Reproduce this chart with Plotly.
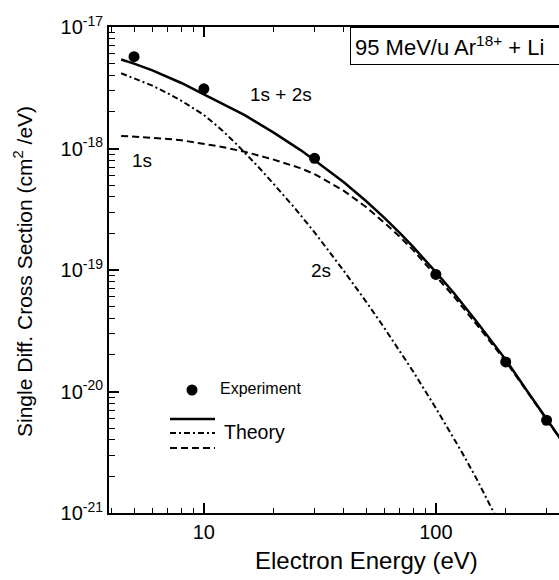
import plotly.graph_objects as go
import numpy as np

# ---------------- data ----------------
exp_energy = [5, 10, 30, 100, 200, 300]
exp_sdcs = [5.7e-18, 3.1e-18, 8.3e-19, 9.2e-20, 1.75e-20, 5.8e-21]

th_energy = [4.4, 5, 6, 7, 8, 10, 12, 15, 20, 26, 30, 40, 50, 60, 70, 80,
             100, 120, 150, 200, 250, 300, 350]
th_total = [5.4e-18, 5.0e-18, 4.4e-18, 3.89e-18, 3.46e-18, 2.79e-18, 2.34e-18,
            1.88e-18, 1.35e-18, 9.75e-19, 8.0e-19, 5.3e-19, 3.7e-19, 2.69e-19,
            2.01e-19, 1.54e-19, 9.6e-20, 6.4e-20, 3.75e-20, 1.83e-20, 9.8e-21,
            6.0e-21, 3.9e-21]
th_1s = [1.27e-18, 1.255e-18, 1.23e-18, 1.20e-18, 1.17e-18, 1.09e-18, 1.03e-18,
         9.4e-19, 8.1e-19, 6.9e-19, 6.15e-19, 4.5e-19, 3.3e-19, 2.45e-19,
         1.87e-19, 1.45e-19, 8.9e-20, 6.0e-20, 3.55e-20, 1.77e-20, 9.7e-21,
         5.95e-21, 3.87e-21]

th2s_energy = [4.4, 5, 6, 7, 8, 10, 12, 14, 17, 20, 25, 30, 40, 50, 60, 80,
               100, 130, 150, 180]
th_2s = [4.16e-18, 3.8e-18, 3.29e-18, 2.84e-18, 2.47e-18, 1.89e-18, 1.41e-18,
         1.06e-18, 7.2e-19, 5.1e-19, 3.13e-19, 2.04e-19, 9.9e-20, 5.5e-20,
         3.33e-20, 1.45e-20, 7.3e-21, 3.12e-21, 1.9e-21, 9.6e-22]

y_tickvals = [1e-21, 1e-20, 1e-19, 1e-18, 1e-17]
y_ticktext = ["10<sup>-21</sup>", "10<sup>-20</sup>", "10<sup>-19</sup>",
              "10<sup>-18</sup>", "10<sup>-17</sup>"]
x_tickvals = [10, 100]
x_ticktext = ["10", "100"]

FONT = "Liberation Sans, Arial, sans-serif"
W, H = 559, 580
L, R, T, B = 109, 0, 27, 67
PW, PH = W - L - R, H - T - B


def px(xpix):
    return (xpix - L) / PW


def py(ypix):
    return (H - B - ypix) / PH


fig = go.Figure()
fig.add_trace(go.Scatter(x=th_energy, y=th_total, mode="lines",
                         line=dict(color="black", width=2.5), showlegend=False))
fig.add_trace(go.Scatter(x=th_energy, y=th_1s, mode="lines",
                         line=dict(color="black", width=2, dash="7px,4px"),
                         showlegend=False))
fig.add_trace(go.Scatter(x=th2s_energy, y=th_2s, mode="lines",
                         line=dict(color="black", width=2, dash="6px,3px,2px,3px"),
                         showlegend=False))
fig.add_trace(go.Scatter(x=exp_energy, y=exp_sdcs, mode="markers",
                         marker=dict(color="black", size=11), showlegend=False,
                         cliponaxis=False))

# curve labels
fig.add_annotation(x=np.log10(21.5), y=np.log10(2.8e-18), text="1s + 2s",
                   showarrow=False, font=dict(size=19, color="black", family=FONT))
fig.add_annotation(x=np.log10(5.4), y=np.log10(8.0e-19), text="1s",
                   showarrow=False, font=dict(size=19, color="black", family=FONT))
fig.add_annotation(x=np.log10(32), y=np.log10(1.0e-19), text="2s",
                   showarrow=False, font=dict(size=19, color="black", family=FONT))

# title box (right side runs past the picture edge, as in the original)
fig.add_annotation(xref="paper", yref="paper", x=px(350), y=1.0, xanchor="left",
                   yanchor="top", text="95 MeV/u Ar<sup>18+</sup> + Li",
                   showarrow=False, bordercolor="black", borderwidth=1,
                   borderpad=4, bgcolor="white", width=230, align="left",
                   font=dict(size=22, color="black", family=FONT))

# axis titles
fig.add_annotation(xref="paper", yref="paper", x=px(366), y=py(560),
                   xanchor="center", yanchor="middle", text="Electron Energy (eV)",
                   showarrow=False, font=dict(size=24, color="black", family=FONT))
fig.add_annotation(xref="paper", yref="paper", x=px(23), y=py(272),
                   xanchor="center", yanchor="middle", textangle=-90,
                   text="Single Diff. Cross Section (cm<sup>2</sup> /eV)",
                   showarrow=False, font=dict(size=21, color="black", family=FONT))

# hand-made legend
fig.add_shape(type="circle", xref="paper", yref="paper",
              x0=px(192 - 5.5), x1=px(192 + 5.5), y0=py(390 + 5.5), y1=py(390 - 5.5),
              fillcolor="black", line=dict(color="black", width=0))
fig.add_annotation(xref="paper", yref="paper", x=px(218), y=py(388), xanchor="left",
                   yanchor="middle", text="Experiment", showarrow=False,
                   font=dict(size=16, color="black", family=FONT))
fig.add_shape(type="line", xref="paper", yref="paper", x0=px(170), x1=px(215),
              y0=py(419), y1=py(419), line=dict(color="black", width=2.5))
fig.add_shape(type="line", xref="paper", yref="paper", x0=px(170), x1=px(215),
              y0=py(433), y1=py(433), line=dict(color="black", width=2, dash="6px,3px,2px,3px"))
fig.add_shape(type="line", xref="paper", yref="paper", x0=px(170), x1=px(215),
              y0=py(448), y1=py(448), line=dict(color="black", width=2, dash="7px,4px"))
fig.add_annotation(xref="paper", yref="paper", x=px(222), y=py(432), xanchor="left",
                   yanchor="middle", text="Theory", showarrow=False,
                   font=dict(size=19.5, color="black", family=FONT))

axis_common = dict(showline=True, linecolor="black", linewidth=1.8,
                   ticks="inside", ticklen=10, tickwidth=1.5, tickcolor="black",
                   showgrid=False, zeroline=False, automargin=False,
                   tickfont=dict(size=20, color="black", family=FONT))

fig.update_xaxes(type="log", range=[np.log10(3.9), np.log10(3.9) + PW / 232],
                 tickmode="array", tickvals=x_tickvals, ticktext=x_ticktext,
                 mirror="ticks",
                 minor=dict(ticks="inside", ticklen=5, tickwidth=1.3, tickcolor="black",
                            dtick="D1", showgrid=False),
                 **axis_common)
fig.update_yaxes(type="log", range=[-21, -17],
                 tickmode="array", tickvals=y_tickvals, ticktext=y_ticktext,
                 mirror=False,
                 minor=dict(ticks="inside", ticklen=6, tickwidth=1.3, tickcolor="black",
                            dtick="D1", showgrid=False),
                 **axis_common)

fig.update_layout(width=W, height=H, plot_bgcolor="white", paper_bgcolor="white",
                  margin=dict(l=L, r=R, t=T, b=B, autoexpand=False), showlegend=False,
                  font=dict(family=FONT, color="black"))

fig.write_html("out.html", config={"displayModeBar": False},
               post_script="document.body.style.margin='0';"
                           "document.body.style.overflow='hidden';")
